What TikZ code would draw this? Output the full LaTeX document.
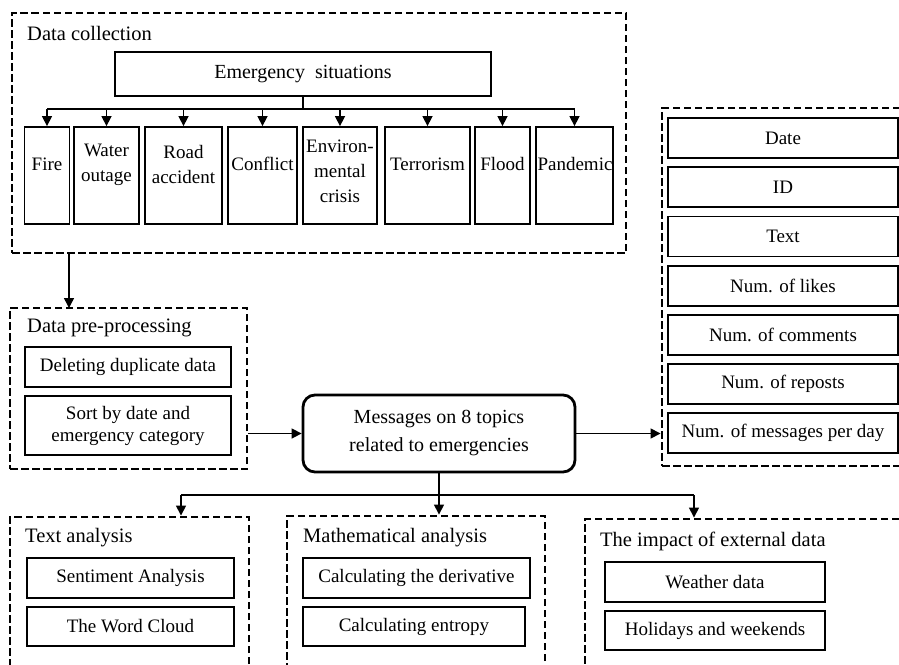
\documentclass[tikz,border=0pt]{standalone}
\usepackage{fontspec}
\setmainfont{Liberation Serif}
\usetikzlibrary{arrows.meta}
\begin{document}
\begin{tikzpicture}[x=1pt,y=-1pt,
 dbox/.style={draw, line width=2.9pt, dash pattern=on 7.5pt off 3.5pt, inner sep=0pt},
 sbox/.style={draw, line width=1.8pt, inner sep=0pt, font=\fontsize{19}{23}\selectfont, align=center},
 ebox/.style={draw, line width=1.8pt, inner sep=0pt},
 btxt/.style={inner sep=0pt, font=\fontsize{19}{25}\selectfont, align=center},
 ttl/.style={anchor=west, inner sep=0pt, font=\fontsize{20.5}{24}\selectfont},
 arr/.style={line width=1.5pt, -{Triangle[length=10pt,width=10pt]}},
 ln/.style={line width=1.5pt}]
\clip (0,0) rectangle (899,664);
\fill[white] (0,0) rectangle (899,664);

% ---------- Data collection ----------
\node[dbox, minimum width=614pt, minimum height=240pt] (dc) at (319,133) {};
\node[ttl] (dctitle) at (27,33) {Data collection};
\node[sbox, line width=2.2pt, minimum width=376pt, minimum height=44pt, font=\fontsize{20}{24}\selectfont] (emerg) at (303,74) {Emergency\ \ situations};

\node[ebox, minimum width=45pt, minimum height=97pt] (fire) at (47,175.5) {};
\node[ebox, minimum width=65pt, minimum height=97pt] (water) at (106.5,175.5) {};
\node[ebox, minimum width=77pt, minimum height=97pt] (road) at (183.5,175.5) {};
\node[ebox, minimum width=69pt, minimum height=97pt] (confl) at (262.5,175.5) {};
\node[ebox, minimum width=74pt, minimum height=97pt] (envir) at (340,175.5) {};
\node[ebox, minimum width=85pt, minimum height=97pt] (terr) at (427.5,175.5) {};
\node[ebox, minimum width=55pt, minimum height=97pt] (flood) at (502.5,175.5) {};
\node[ebox, minimum width=77pt, minimum height=97pt] (pand) at (574.5,175.5) {};

\node[btxt] (firet) at (47,164) {Fire};
\node[btxt] (watert) at (106.5,164.5) {Water\\outage};
\node[btxt] (roadt) at (183.5,164.5) {Road\\accident};
\node[btxt] (conflt) at (262.5,164) {Conflict};
\node[btxt] (envirt) at (340,171) {Environ-\\mental\\crisis};
\node[btxt] (terrt) at (427.5,164) {Terrorism};
\node[btxt] (floodt) at (502.5,164) {Flood};
\node[btxt] (pandt) at (575,164) {Pandemic};

\coordinate (barL) at (47,109);
\coordinate (barR) at (574.5,109);
\draw[ln] (emerg.south) -- (emerg.south |- barL);
\draw[ln] (barL) -- (barR);
\foreach \n in {fire,water,road,confl,envir,terr,flood,pand}
  \draw[arr] (\n.north |- barL) -- (\n.north);

% ---------- Data pre-processing ----------
\node[dbox, minimum width=237pt, minimum height=161pt] (pp) at (128.5,388.5) {};
\node[ttl] (pptitle) at (27,328) {Data pre-processing};
\node[sbox, minimum width=206pt, minimum height=40pt] (del) at (128,367) {Deleting duplicate data};
\node[sbox, minimum width=206pt, minimum height=59pt, font=\fontsize{19}{22}\selectfont] (sort) at (128,425.5) {Sort by date and\\emergency category};
\coordinate (ppa) at (69,308);
\draw[arr] (dc.south -| ppa) -- (ppa);

% ---------- Messages ----------
\node[draw, line width=2.8pt, rounded corners=12pt, minimum width=272pt, minimum height=77pt, inner sep=0pt, align=center, font=\fontsize{20}{28}\selectfont] (msg) at (439,433.5) {Messages on 8 topics\\related to emergencies};
\draw[arr] (pp.east |- msg.west) -- (msg.west);

% ---------- Right column ----------
\node[dbox, minimum width=248pt, minimum height=358pt] (rb) at (786,287) {};
\node[sbox, minimum width=230pt, minimum height=40pt] (date) at (783,138) {Date};
\node[sbox, minimum width=230pt, minimum height=40pt] (id) at (783,187.2) {ID};
\node[sbox, minimum width=230pt, minimum height=40pt] (text) at (783,236.4) {Text};
\node[sbox, minimum width=230pt, minimum height=40pt] (likes) at (783,285.6) {Num. of likes};
\node[sbox, minimum width=230pt, minimum height=40pt] (comm) at (783,334.8) {Num. of comments};
\node[sbox, minimum width=230pt, minimum height=40pt] (repo) at (783,384) {Num. of reposts};
\node[sbox, minimum width=230pt, minimum height=40pt] (perday) at (783,433.2) {Num. of messages per day};
\draw[arr] (msg.east) -- (rb.west |- msg.east);

% ---------- Bottom ----------
\node[dbox, minimum width=239pt, minimum height=183pt] (ta) at (129.5,608.5) {};
\node[dbox, minimum width=258pt, minimum height=184pt] (ma) at (416,608) {};
\node[dbox, minimum width=325pt, minimum height=181pt] (ia) at (747.5,609.5) {};
\node[ttl] (tatitle) at (25,538) {Text analysis};
\node[ttl] (matitle) at (303,538) {Mathematical analysis};
\node[ttl] (iatitle) at (600,541) {The impact of external data};

\node[sbox, minimum width=207pt, minimum height=40pt] (sent) at (130.5,578) {Sentiment Analysis};
\node[sbox, minimum width=207pt, minimum height=39pt] (cloud) at (130.5,626.5) {The Word Cloud};
\node[sbox, minimum width=227pt, minimum height=40pt] (deriv) at (416.5,578) {Calculating the derivative};
\node[sbox, minimum width=222pt, minimum height=39pt] (entr) at (414,626.5) {Calculating entropy};
\node[sbox, minimum width=220pt, minimum height=40pt] (weather) at (715,582) {Weather data};
\node[sbox, minimum width=220pt, minimum height=39pt] (holid) at (715,630.5) {Holidays and weekends};

\coordinate (bbL) at (181,495);
\coordinate (bbR) at (694,495);
\draw[ln] (msg.south) -- (msg.south |- bbL);
\draw[ln] (bbL) -- (bbR);
\draw[arr] (bbL) -- (ta.north -| bbL);
\draw[arr] (msg.south |- bbL) -- (ma.north -| msg.south);
\draw[arr] (bbR) -- (ia.north -| bbR);
\end{tikzpicture}
\end{document}
